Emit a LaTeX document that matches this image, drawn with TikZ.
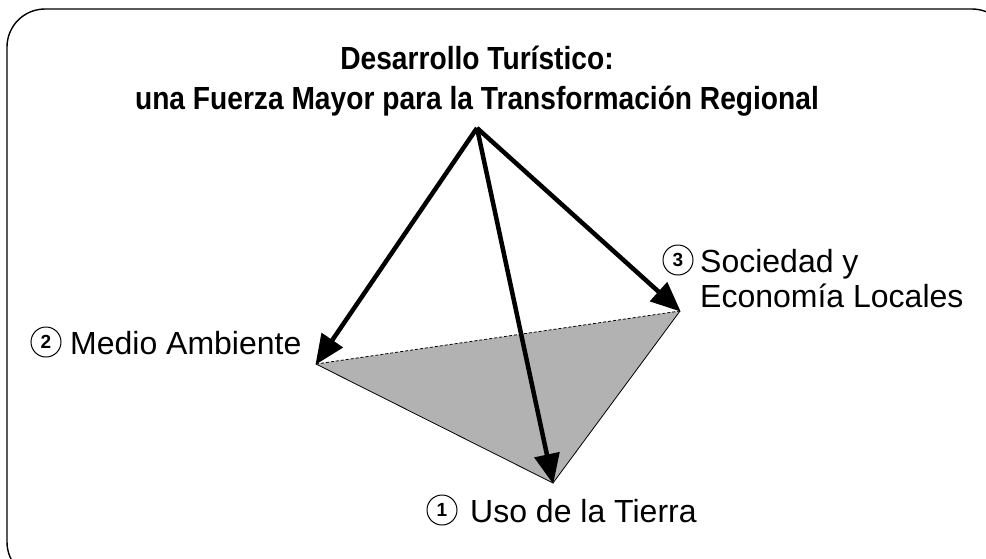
\documentclass[tikz,border=0pt]{standalone}
\usepackage{fontspec}
\setmainfont{Liberation Sans}
\newfontfamily\titlefont[FakeStretch=0.88]{Liberation Sans}
\usetikzlibrary{arrows.meta}
\begin{document}
\begin{tikzpicture}[x=1pt,y=-1pt,
  bigarrow/.style={line width=4.5pt,-{Triangle[length=30pt,width=25pt]},shorten >=-1pt},
  edge/.style={line width=0.8pt},
  numtext/.style={inner sep=0pt,font=\fontsize{19}{19}\selectfont\bfseries},
  ring/.style={line width=1pt},
  lbl/.style={font=\fontsize{32}{38}\selectfont,inner sep=0pt},
  titletext/.style={font=\titlefont\fontsize{32}{40}\selectfont\bfseries,align=center,inner sep=0pt}]
\useasboundingbox (0,0) rectangle (986,558);
\begin{scope}
\clip (0,0) rectangle (986,558);
\draw[line width=1.4pt,rounded corners=38pt] (7,9) rectangle (1010,580);
\end{scope}
\coordinate (apex) at (477,128);
\coordinate (L) at (316,364);
\coordinate (R) at (680,311);
\coordinate (B) at (553,483);
\fill[black!30] (L) -- (R) -- (B) -- cycle;
\draw[edge] (L) -- (B) -- (R);
\draw[edge,dash pattern=on 3pt off 2pt] (L) -- (R);
\draw[bigarrow] (apex) -- (L);
\draw[bigarrow] (apex) -- (B);
\draw[bigarrow] (apex) -- (R);
\node[titletext,anchor=base] (t1) at (477,69) {Desarrollo Turístico:};
\node[titletext,anchor=base] (t2) at (477,109) {una Fuerza Mayor para la Transformación Regional};
\node[numtext] (c2) at (46,342) {2};
\draw[ring] (c2.center) circle (15);
\node[lbl,anchor=base west] (m2) at (70,354) {Medio Ambiente};
\node[numtext] (c3) at (678,260) {3};
\draw[ring] (c3.center) circle (15);
\node[lbl,anchor=base west] (m3a) at (700,272) {Sociedad y};
\node[lbl,anchor=base west] (m3b) at (700,307) {Economía Locales};
\node[numtext] (c1) at (442,510) {1};
\draw[ring] (c1.center) circle (15);
\node[lbl,anchor=base west] (m1) at (470,522) {Uso de la Tierra};
\end{tikzpicture}
\end{document}
